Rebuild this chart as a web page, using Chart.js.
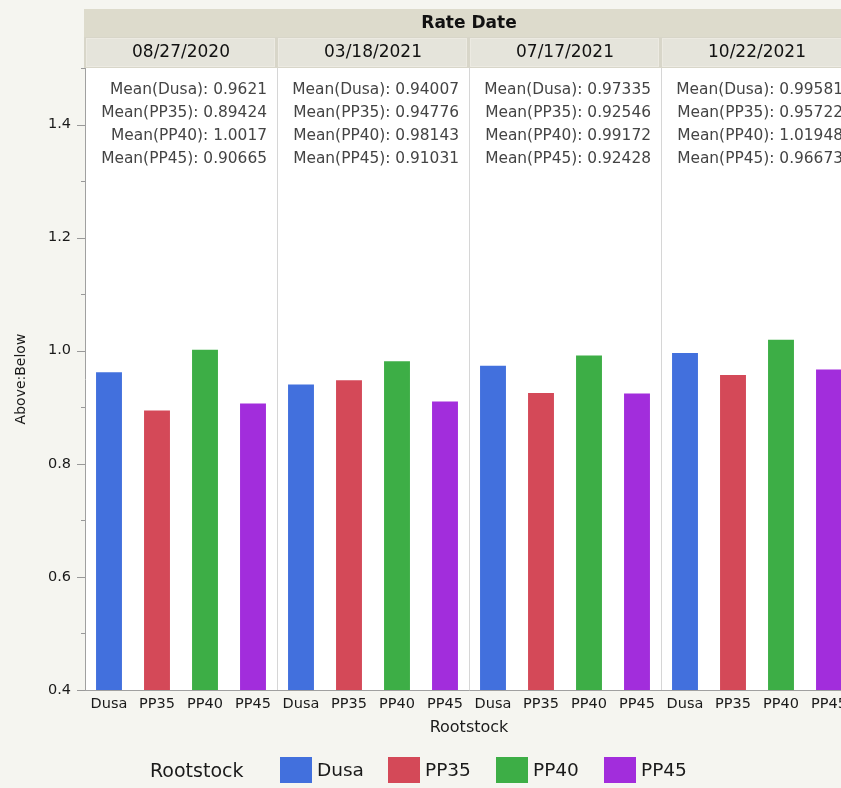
<!DOCTYPE html>
<html>
<head>
<meta charset="utf-8">
<script src="https://cdn.jsdelivr.net/npm/chart.js@4/dist/chart.umd.min.js"></script>
<style>
  html, body { margin: 0; padding: 0; background: #f5f5f0; overflow: hidden; }
  #wrap { width: 841px; height: 788px; overflow: hidden; }
  canvas { display: block; }
</style>
</head>
<body>
<div id="wrap"><canvas id="c" width="860" height="788"></canvas></div>
<script>
// Rate dates (panels) and rootstocks (bars within each panel)
const rateDates = ['08/27/2020', '03/18/2021', '07/17/2021', '10/22/2021'];
const rootstocks = ['Dusa', 'PP35', 'PP40', 'PP45'];

// Mean Above:Below ratio per rootstock, one value per rate date
const dusa = [0.9621, 0.94007, 0.97335, 0.99581];
const pp35 = [0.89424, 0.94776, 0.92546, 0.95722];
const pp40 = [1.0017, 0.98143, 0.99172, 1.01948];
const pp45 = [0.90665, 0.91031, 0.92428, 0.96673];

const seriesValues = [dusa, pp35, pp40, pp45];
const seriesColors = ['#4270dd', '#d44958', '#3dae46', '#a22ddc'];

const yTicks = [0.4, 0.6, 0.8, 1.0, 1.2, 1.4];

const FONT = "'DejaVu Sans', sans-serif";

// One category per (date, rootstock) pair
const labels = [];
rateDates.forEach(() => rootstocks.forEach(r => labels.push(r)));

const datasets = rootstocks.map((name, s) => {
  const data = labels.map(() => null);
  rateDates.forEach((d, p) => { data[p * rootstocks.length + s] = seriesValues[s][p]; });
  return {
    label: name,
    data,
    backgroundColor: seriesColors[s],
    borderWidth: 0,
    grouped: false,
    categoryPercentage: 1,
    barPercentage: 0.54
  };
});

const panelDecor = {
  id: 'panelDecor',
  beforeDraw(chart) {
    const { ctx, chartArea: a, scales: { x } } = chart;
    const W = chart.width;
    ctx.save();
    ctx.fillStyle = '#f5f5f0';
    ctx.fillRect(0, 0, W, chart.height);
    ctx.fillStyle = '#ffffff';
    ctx.fillRect(a.left, a.top, a.right - a.left, a.bottom - a.top);

    // "Rate Date" group header
    ctx.fillStyle = '#dddbcc';
    ctx.fillRect(a.left - 1, 9, W - a.left + 1, 28);
    ctx.fillStyle = '#111';
    ctx.font = 'bold 17px ' + FONT;
    ctx.textAlign = 'center';
    ctx.textBaseline = 'middle';
    ctx.fillText('Rate Date', (a.left + a.right) / 2, 24);

    // Date cells
    ctx.fillStyle = '#d8d6c9';
    ctx.fillRect(a.left - 1, 37, W - a.left + 1, 31);
    const n = rootstocks.length;
    rateDates.forEach((d, p) => {
      const l = x.getPixelForValue(p * n - 0.5);
      const r = x.getPixelForValue(p * n + n - 0.5);
      ctx.fillStyle = '#eceae2';
      ctx.fillRect(l + 1, 38, r - l - 3, 29);
      ctx.fillStyle = '#e5e4db';
      ctx.fillRect(l + 2, 39, r - l - 5, 27);
      ctx.fillStyle = '#111';
      ctx.font = '17px ' + FONT;
      ctx.fillText(d, (l + r) / 2, 53);
    });
    ctx.restore();
  },
  afterDatasetsDraw(chart) {
    const { ctx, chartArea: a, scales: { x, y } } = chart;
    ctx.save();
    // y tick marks: long at labelled values, short in between
    ctx.strokeStyle = '#999999';
    ctx.lineWidth = 1;
    for (let k = 4; k <= 15; k++) {
      const py = Math.round(y.getPixelForValue(k / 10)) + 0.5;
      const len = k % 2 === 0 ? 8 : 4;
      ctx.beginPath();
      ctx.moveTo(a.left - len, py);
      ctx.lineTo(a.left, py);
      ctx.stroke();
    }

    // Mean summaries per panel
    const n = rootstocks.length;
    ctx.font = '15.4px ' + FONT;
    ctx.fillStyle = '#444';
    ctx.textAlign = 'right';
    ctx.textBaseline = 'middle';
    rateDates.forEach((d, p) => {
      const r = x.getPixelForValue(p * n + n - 0.5);
      rootstocks.forEach((name, s) => {
        ctx.fillText('Mean(' + name + '): ' + String(seriesValues[s][p]), r - 10, a.top + 22 + s * 23);
      });
    });

    // Legend
    ctx.fillStyle = '#1a1a1a';
    ctx.textAlign = 'left';
    ctx.font = '19px ' + FONT;
    ctx.fillText('Rootstock', 150, 772);
    ctx.font = '18.5px ' + FONT;
    rootstocks.forEach((name, s) => {
      const sx = 280 + s * 108;
      ctx.fillStyle = seriesColors[s];
      ctx.fillRect(sx, 757, 32, 26);
      ctx.fillStyle = '#1a1a1a';
      ctx.fillText(name, sx + 37, 771);
    });
    ctx.restore();
  }
};

new Chart(document.getElementById('c'), {
  type: 'bar',
  data: { labels, datasets },
  plugins: [panelDecor],
  options: {
    responsive: false,
    animation: false,
    layout: { padding: { top: 68, right: 7, bottom: 51, left: 0 } },
    plugins: { legend: { display: false }, tooltip: { enabled: false } },
    scales: {
      x: {
        offset: true,
        grid: {
          drawTicks: false,
          color: (c) => (c.index % rootstocks.length === 0 && c.index > 0) ? '#d6d6d6' : 'rgba(0,0,0,0)'
        },
        border: { display: true, color: '#a0a0a0', width: 1 },
        ticks: {
          autoSkip: false, maxRotation: 0, padding: 6,
          color: '#1a1a1a', font: { family: FONT, size: 14.5 }
        },
        title: {
          display: true, text: 'Rootstock', color: '#1a1a1a',
          font: { family: FONT, size: 16 }, padding: { top: 0, bottom: 0 }
        },
        afterFit(s) { s.height = 47; }
      },
      y: {
        min: 0.4, max: 1.5,
        grid: { drawOnChartArea: false, drawTicks: false },
        border: { display: true, color: '#a0a0a0', width: 1 },
        afterBuildTicks(s) { s.ticks = yTicks.map(v => ({ value: v })); },
        ticks: {
          padding: 14, color: '#1a1a1a', font: { family: FONT, size: 14.5 },
          callback: (v) => Number(v).toFixed(1)
        },
        title: {
          display: true, text: 'Above:Below', color: '#1a1a1a',
          font: { family: FONT, size: 14 }, padding: { top: 12.5, bottom: 0 }
        },
        afterFit(s) { s.width = 85; }
      }
    }
  }
});
</script>
</body>
</html>
